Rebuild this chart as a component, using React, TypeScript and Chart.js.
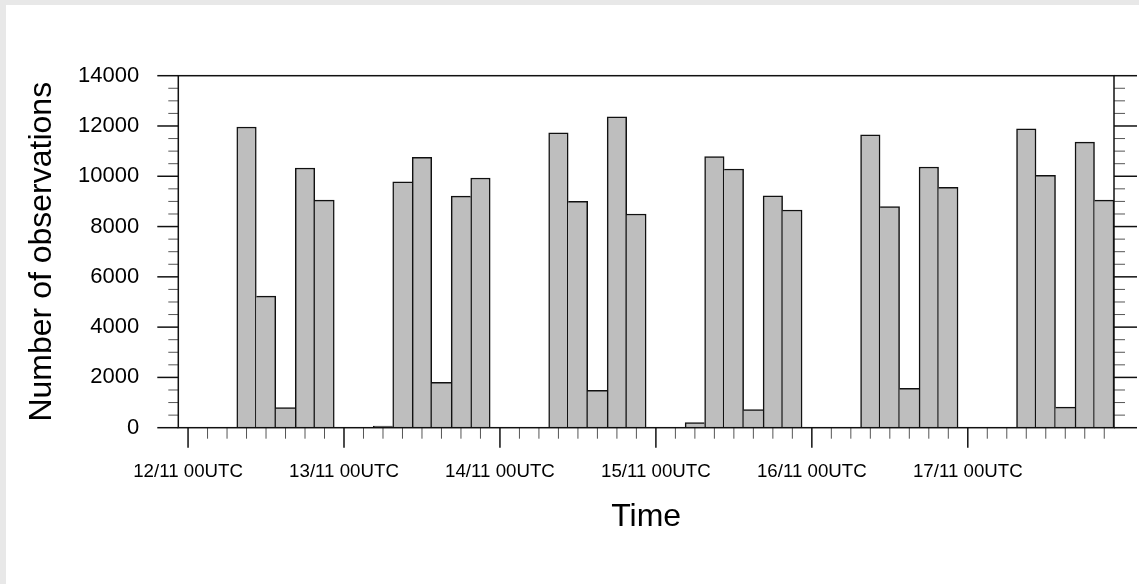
import React, { useEffect, useRef } from "react";
import { Chart, registerables } from "chart.js";

Chart.register(...registerables);

// ---- data ----
const days = ["12/11", "13/11", "14/11", "15/11", "16/11", "17/11"];
const hours = ["00", "03", "06", "09", "12", "15", "18", "21"];
const slotLabels = days.flatMap((d) => hours.map((h) => `${d} ${h}UTC`));

const observations = [
  0, 0, 0, 11960, 5230, 800, 10330, 9050,
  0, 0, 60, 9780, 10750, 1800, 9210, 9930,
  0, 0, 0, 11730, 9000, 1490, 12360, 8500,
  0, 0, 200, 10780, 10290, 720, 9220, 8660,
  0, 0, 0, 11650, 8790, 1570, 10370, 9560,
  0, 0, 0, 11890, 10040, 820, 11360, 9050,
];

const yMax = 14000;
const yMajorStep = 2000;
const yMinorStep = 500;
const slotsPerDay = hours.length;

const FONT = "'Liberation Sans', Arial, Helvetica, sans-serif";
const BW = 1.5;

const framePlugin = {
  id: "nclFrame",
  afterDatasetsDraw(chart: any) {
    const { ctx, chartArea: a, scales } = chart;
    const x = scales.x;
    const y = scales.y;
    const line = (x1: number, y1: number, x2: number, y2: number) => {
      ctx.beginPath();
      ctx.moveTo(x1, y1);
      ctx.lineTo(x2, y2);
      ctx.stroke();
    };
    ctx.save();
    // y ticks (both sides, outward)
    for (let v = 0; v <= yMax; v += yMinorStep) {
      const py = y.getPixelForValue(v);
      const major = v % yMajorStep === 0;
      ctx.lineWidth = major ? 1.5 : 1;
      ctx.strokeStyle = major ? "#111" : "#555";
      line(a.left - (major ? 21 : 10), py, a.left, py);
      line(a.right, py, a.right + (major ? 23 : 11), py);
    }
    // x ticks (downward)
    slotLabels.forEach((_, i) => {
      const px = x.getPixelForValue(i);
      const major = i % slotsPerDay === 0;
      ctx.lineWidth = major ? 1.5 : 1;
      ctx.strokeStyle = major ? "#111" : "#555";
      line(px, a.bottom, px, a.bottom + (major ? 20 : 11));
    });
    // frame
    ctx.lineWidth = 1.5;
    ctx.strokeStyle = "#111";
    ctx.strokeRect(a.left, a.top, a.right - a.left, a.bottom - a.top);
    ctx.restore();
  },
};

export default function App() {
  const ref = useRef<HTMLCanvasElement>(null);

  useEffect(() => {
    if (!ref.current) return;
    const chart = new Chart(ref.current, {
      type: "bar",
      data: {
        labels: slotLabels,
        datasets: [
          {
            data: observations,
            backgroundColor: "#bebebe",
            borderColor: "#111",
            borderSkipped: false,
            borderWidth: (c: any) => {
              const i = c.dataIndex;
              const cur = observations[i] ?? 0;
              const prev = i > 0 ? observations[i - 1] : 0;
              const next = i < observations.length - 1 ? observations[i + 1] : 0;
              return {
                top: BW,
                bottom: 0,
                left: prev <= cur ? BW : 0,
                right: next < cur ? BW : 0,
              };
            },
            barPercentage: 1,
            categoryPercentage: 1,
          },
        ],
      },
      options: {
        responsive: false,
        maintainAspectRatio: false,
        animation: false,
        devicePixelRatio: 1,
        layout: { padding: { left: 0, top: 75.7, right: 25, bottom: 0 } },
        plugins: {
          legend: { display: false },
          tooltip: { enabled: false },
          title: { display: false },
        },
        scales: {
          x: {
            type: "category",
            offset: true,
            grid: { display: false, offset: false, drawTicks: false },
            border: { display: false },
            ticks: {
              autoSkip: false,
              maxRotation: 0,
              minRotation: 0,
              padding: 33,
              color: "#000",
              font: { family: FONT, size: 18.7 },
              callback: (_v: any, i: number) =>
                i % slotsPerDay === 0 ? slotLabels[i] : "",
            },
            title: {
              display: true,
              text: "Time",
              color: "#000",
              font: { family: FONT, size: 32 },
              padding: { top: 0, bottom: 48 },
            },
            afterFit: (s: any) => {
              s.height = 584 - 427.7;
            },
          },
          y: {
            min: 0,
            max: yMax,
            grid: { display: false, drawTicks: false },
            border: { display: false },
            ticks: {
              stepSize: yMajorStep,
              padding: 39,
              color: "#000",
              font: { family: FONT, size: 22 },
              callback: (v: any) => String(v),
            },
            title: {
              display: true,
              text: "Number of observations",
              color: "#000",
              font: { family: FONT, size: 32 },
              padding: { top: 22.7, bottom: 0 },
            },
            afterFit: (s: any) => {
              s.width = 178.3;
            },
          },
        },
      },
      plugins: [framePlugin],
    } as any);
    return () => chart.destroy();
  }, []);

  return (
    <div
      style={{
        position: "fixed",
        left: 0,
        top: 0,
        width: 1139,
        height: 584,
        background: "#e8e8e8",
        overflow: "hidden",
      }}
    >
      <div
        style={{
          position: "absolute",
          left: 6,
          top: 5,
          right: 0,
          bottom: 0,
          background: "#ffffff",
        }}
      />
      <canvas
        ref={ref}
        width={1139}
        height={584}
        style={{ position: "absolute", left: 0, top: 0, width: 1139, height: 584 }}
      />
    </div>
  );
}
